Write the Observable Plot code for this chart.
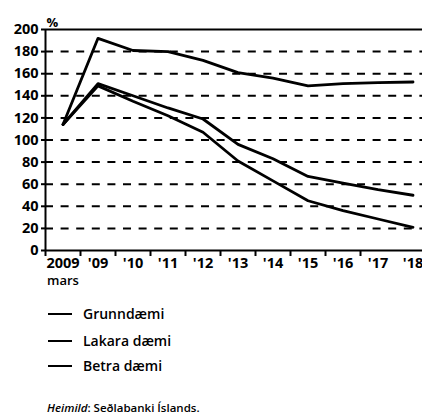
<!DOCTYPE html>
<html>
<head>
<meta charset="utf-8">
<script src="https://cdn.jsdelivr.net/npm/d3@7"></script>
<script src="https://cdn.jsdelivr.net/npm/@observablehq/plot@0.6"></script>
<style>
  html, body { margin: 0; padding: 0; background: #fff; }
  body { width: 422px; height: 414px; position: relative; overflow: hidden; font-family: "Open Sans", sans-serif; color: #000; }
  #chart { position: absolute; left: 0; top: 0; }
  .leg { position: absolute; left: 48px; font-size: 14px; font-weight: 600; line-height: 1; }
  .leg span.sw { display: inline-block; width: 24px; height: 0; border-top: 2.5px solid #000; vertical-align: middle; margin-right: 11px; position: relative; top: -1px; }
  #source { position: absolute; left: 47px; top: 400px; font-size: 11.5px; font-weight: 600; }
</style>
</head>
<body>
<div id="chart"></div>
<div class="leg" style="top:307px"><span class="sw"></span>Grunndæmi</div>
<div class="leg" style="top:334px"><span class="sw"></span>Lakara dæmi</div>
<div class="leg" style="top:359px"><span class="sw"></span>Betra dæmi</div>
<div id="source"><i>Heimild</i>: Seðlabanki Íslands.</div>
<script>
const xLabels = ["2009", "'09", "'10", "'11", "'12", "'13", "'14", "'15", "'16", "'17", "'18"];
const grunndaemi = [114, 151, 140, 129, 119, 96, 83, 67, 61, 55, 50];
const lakaraDaemi = [114, 192, 181, 180, 172, 161, 156, 149, 151, 152, 152.5];
const betraDaemi = [114, 149, 135, 122, 107, 81, 63, 45, 36, 28.5, 21];
const yTicks = [0, 20, 40, 60, 80, 100, 120, 140, 160, 180, 200];
const gridValues = [20, 40, 60, 80, 100, 120, 140, 160, 180];

const series = [
  {name: "Grunndæmi", values: grunndaemi},
  {name: "Lakara dæmi", values: lakaraDaemi},
  {name: "Betra dæmi", values: betraDaemi}
];
const rows = series.flatMap(s => s.values.map((v, i) => ({series: s.name, i, v})));
const idx = xLabels.map((_, i) => i);
const bounds = xLabels.slice(0, 10).map((_, i) => i - 0.5);

const chart = Plot.plot({
  width: 422,
  height: 300,
  marginLeft: 45,
  marginRight: 0,
  marginTop: 29,
  marginBottom: 50,
  style: {fontFamily: "Open Sans, sans-serif", fontSize: "14.5px", fontWeight: "bold", color: "#000", background: "#fff"},
  x: {domain: [-0.5, 10.271], axis: null},
  y: {domain: [0, 200], axis: null},
  marks: [
    Plot.ruleY(gridValues, {stroke: "#000", strokeWidth: 2, strokeDasharray: "8,7.6"}),
    Plot.ruleY([0, 200], {stroke: "#000", strokeWidth: 2}),
    Plot.ruleX([-0.5], {stroke: "#000", strokeWidth: 2}),
    Plot.axisY({ticks: yTicks, tickSize: 4, tickPadding: 3, strokeWidth: 2, label: null}),
    Plot.axisX({ticks: bounds, tickSize: 6, strokeWidth: 2, tickFormat: () => "", label: null}),
    Plot.axisX({ticks: idx, tickSize: 0, tickPadding: 7, tickFormat: d => xLabels[d], label: null}),
    Plot.text([{i: 0, t: "mars"}], {x: "i", text: "t", frameAnchor: "bottom", dy: 34, fontSize: 13, fontWeight: 600}),
    Plot.text(["%"], {frameAnchor: "top-left", text: d => d, dx: 1, dy: -12, textAnchor: "start", fontSize: 13}),
    Plot.line(rows, {x: "i", y: "v", z: "series", stroke: "#000", strokeWidth: 2.8, strokeLinejoin: "round"})
  ]
});
document.getElementById("chart").appendChild(chart);
</script>
</body>
</html>
